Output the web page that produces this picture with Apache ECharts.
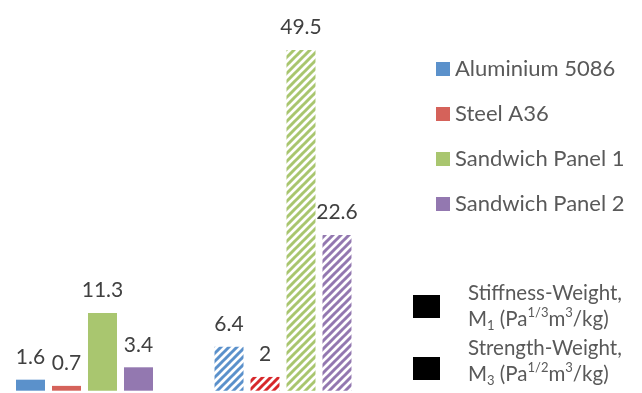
<!DOCTYPE html>
<html>
<head>
<meta charset="utf-8">
<script src="https://cdn.jsdelivr.net/npm/echarts@6/dist/echarts.min.js"></script>
<style>
  html, body { margin: 0; padding: 0; background: #fff; }
  #chart { width: 642px; height: 393px; }
</style>
</head>
<body>
<div id="chart"></div>
<script>
// Performance indices: first group is stiffness-weight M1, second is strength-weight M3
const metrics = ['Stiffness-Weight', 'Strength-Weight'];
const materials = ['Aluminium 5086', 'Steel A36', 'Sandwich Panel 1', 'Sandwich Panel 2'];
const aluminium = [1.6, 6.4];
const steel = [0.7, 2];
const panel1 = [11.3, 49.5];
const panel2 = [3.4, 22.6];

const solidColors = ['#5b91cb', '#d5625a', '#a9c66f', '#9378b0'];
const stripeColors = ['#5b91cb', '#d7282b', '#a9c66f', '#9378b0'];

// Diagonal stripe tile for the strength-weight bars
function stripes(color) {
  const s = 8;
  const c = document.createElement('canvas');
  c.width = s; c.height = s;
  const g = c.getContext('2d');
  g.fillStyle = '#ffffff';
  g.fillRect(0, 0, s, s);
  g.strokeStyle = color;
  g.lineWidth = 3;
  g.beginPath();
  for (let k = -1; k <= 1; k++) {
    g.moveTo(k * s - 1, s + 1);
    g.lineTo(k * s + s + 1, -1);
  }
  g.stroke();
  return { image: c, repeat: 'repeat' };
}

const values = [aluminium, steel, panel1, panel2];

const series = materials.map((name, i) => ({
  name: name,
  type: 'bar',
  barWidth: 29,
  barGap: '24.1%',
  clip: false,
  itemStyle: { color: solidColors[i] },
  label: {
    show: true,
    position: 'top',
    distance: 12,
    color: '#404040',
    fontFamily: 'Lato',
    fontSize: 21
  },
  data: values[i].map((v, j) => j === 0 ? v : { value: v, itemStyle: { color: stripes(stripeColors[i]) } })
}));

const chart = echarts.init(document.getElementById('chart'));
chart.setOption({
  animation: false,
  // group centres sit on the two ends of the category axis
  grid: { left: 84.5, right: 359, top: 46.5, bottom: 2.3, containLabel: false },
  xAxis: {
    type: 'category',
    boundaryGap: false,
    data: metrics,
    axisLine: { show: false },
    axisTick: { show: false },
    axisLabel: { show: false }
  },
  yAxis: {
    type: 'value',
    min: 0,
    max: 50,
    splitLine: { show: false },
    axisLine: { show: false },
    axisTick: { show: false },
    axisLabel: { show: false }
  },
  legend: {
    orient: 'vertical',
    left: 431,
    top: 53,
    icon: 'rect',
    itemWidth: 14,
    itemHeight: 14,
    itemGap: 23,
    textStyle: { color: '#595959', fontFamily: 'Lato', fontSize: 22, lineHeight: 22 },
    data: materials
  },
  graphic: [
    { type: 'rect', left: 413, top: 295, shape: { width: 27, height: 23 }, style: { fill: '#000' } },
    { type: 'rect', left: 413, top: 357, shape: { width: 27, height: 23 }, style: { fill: '#000' } },
    {
      type: 'text', left: 468, top: 280,
      style: {
        text: 'Stiffness-Weight,\nM{sub|1} (Pa{sup|1/3}m{sup|3}/kg)',
        fill: '#595959', font: '20.5px Lato', lineHeight: 26,
        rich: {
          sub: { fontSize: 13, fontFamily: 'Lato', fill: '#595959', verticalAlign: 'bottom', lineHeight: 26 },
          sup: { fontSize: 13, fontFamily: 'Lato', fill: '#595959', verticalAlign: 'top', lineHeight: 26 }
        }
      }
    },
    {
      type: 'text', left: 468, top: 335,
      style: {
        text: 'Strength-Weight,\nM{sub|3} (Pa{sup|1/2}m{sup|3}/kg)',
        fill: '#595959', font: '20.5px Lato', lineHeight: 26,
        rich: {
          sub: { fontSize: 13, fontFamily: 'Lato', fill: '#595959', verticalAlign: 'bottom', lineHeight: 26 },
          sup: { fontSize: 13, fontFamily: 'Lato', fill: '#595959', verticalAlign: 'top', lineHeight: 26 }
        }
      }
    }
  ],
  series: series
});
</script>
</body>
</html>
